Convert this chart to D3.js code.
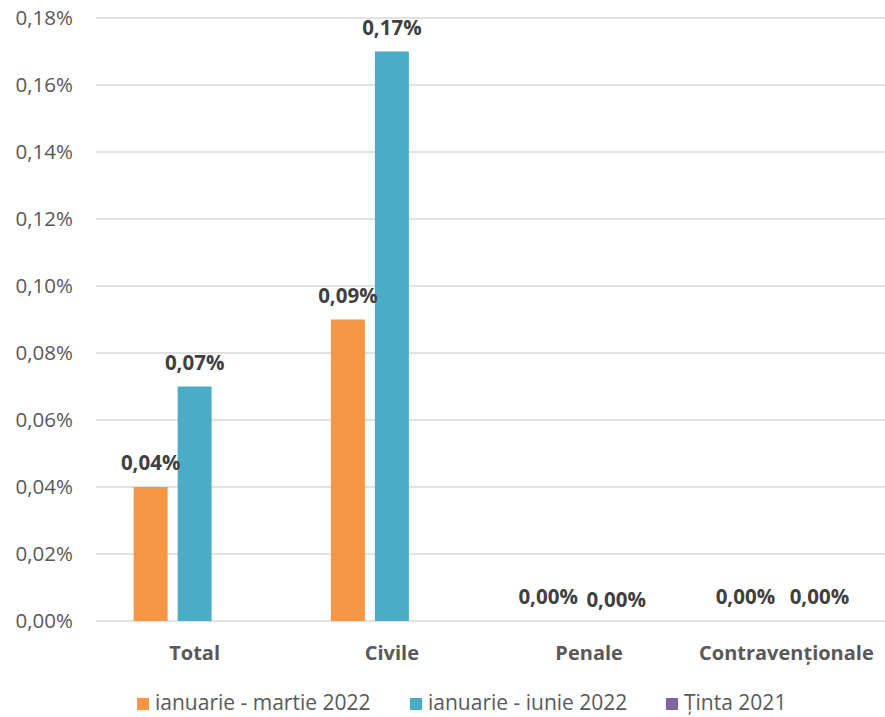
<!DOCTYPE html>
<html><head><meta charset="utf-8">
<script src="https://cdn.jsdelivr.net/npm/d3@7"></script>
<style>body{margin:0;background:#fff}svg{display:block}</style>
</head><body>
<svg id="c" width="885" height="717"></svg>
<script>
const categories = ["Total", "Civile", "Penale", "Contravenționale"];
const seriesNames = ["ianuarie - martie 2022", "ianuarie - iunie 2022", "Ținta 2021"];
const seriesColors = ["#F79646", "#4BACC6", "#8064A2"];
const valuesMar = [0.04, 0.09, 0.00, 0.00];
const valuesIun = [0.07, 0.17, 0.00, 0.00];
const valuesTinta = [null, null, null, null];
const yTicks = [0, 0.02, 0.04, 0.06, 0.08, 0.10, 0.12, 0.14, 0.16, 0.18];

(function () {
const seriesValues = [valuesMar, valuesIun, valuesTinta];
const fmt = v => v.toFixed(2).replace(".", ",") + "%";
const font = "'Open Sans', sans-serif";

const svg = d3.select("#c");
const mLeft = 96, mRight = 885, mTop = 18, mBottom = 621;

const x = d3.scaleBand().domain(categories).range([mLeft, mRight]).paddingInner(0).paddingOuter(0);
const y = d3.scaleLinear().domain([0, 0.18]).range([mBottom, mTop]);
const x1 = d3.scaleBand().domain(d3.range(3)).range([0, 122]).paddingInner(0.227);
const groupOff = (x.bandwidth() - 122) / 2;

// gridlines
svg.append("g").selectAll("line").data(yTicks).join("line")
  .attr("x1", mLeft).attr("x2", mRight)
  .attr("y1", d => y(d)).attr("y2", d => y(d))
  .attr("stroke", "#d9d9d9").attr("stroke-width", 1.3);

// y axis labels
const yAxis = d3.axisLeft(y).tickValues(yTicks).tickFormat(fmt).tickSize(0).tickPadding(0);
const ga = svg.append("g").attr("transform", `translate(73,0)`).call(yAxis);
ga.select(".domain").remove();
ga.selectAll("text").attr("font-family", font).attr("font-size", "20.5px").attr("fill", "#595959");

// bars
seriesValues.forEach((vals, si) => {
  svg.append("g").selectAll("rect").data(vals.map((v, i) => ({v, c: categories[i]})).filter(d => d.v !== null)).join("rect")
    .attr("x", d => x(d.c) + groupOff + x1(si))
    .attr("width", x1.bandwidth())
    .attr("y", d => y(d.v))
    .attr("height", d => y(0) - y(d.v))
    .attr("fill", seriesColors[si]);
});

// data labels
seriesValues.forEach((vals, si) => {
  if (si === 2) return;
  svg.append("g").selectAll("text").data(vals.map((v, i) => ({v, c: categories[i], i})).filter(d => d.v !== null)).join("text")
    .attr("x", d => x(d.c) + groupOff + x1(si) + x1.bandwidth() / 2 + (d.v === 0 ? (si === 1 ? (d.i === 2 ? 27 : 33) : 3) : 0))
    .attr("y", d => y(d.v) - 17 + (d.v === 0 && si === 1 && d.i === 2 ? 3 : 0))
    .attr("text-anchor", "middle")
    .attr("font-family", font).attr("font-size", "20.5px").attr("font-weight", "bold")
    .attr("fill", "#404040")
    .text(d => fmt(d.v));
});

// category labels
const xAxis = d3.axisBottom(x).tickSize(0).tickPadding(0);
const gx = svg.append("g").attr("transform", `translate(0,${mBottom + 39})`).call(xAxis);
gx.select(".domain").remove();
gx.selectAll("text").attr("font-family", font).attr("font-size", "20px").attr("font-weight", "bold").attr("fill", "#595959").attr("dy", 0);

// legend
const legendX = [137, 410, 666];
const lg = svg.append("g");
seriesNames.forEach((n, i) => {
  lg.append("rect").attr("x", legendX[i]).attr("y", 698).attr("width", 12).attr("height", 12).attr("fill", seriesColors[i]);
  lg.append("text").attr("x", legendX[i] + 18).attr("y", 710)
    .attr("font-family", font).attr("font-size", "21px").attr("fill", "#595959").text(n);
});
})();
</script>
</body></html>
